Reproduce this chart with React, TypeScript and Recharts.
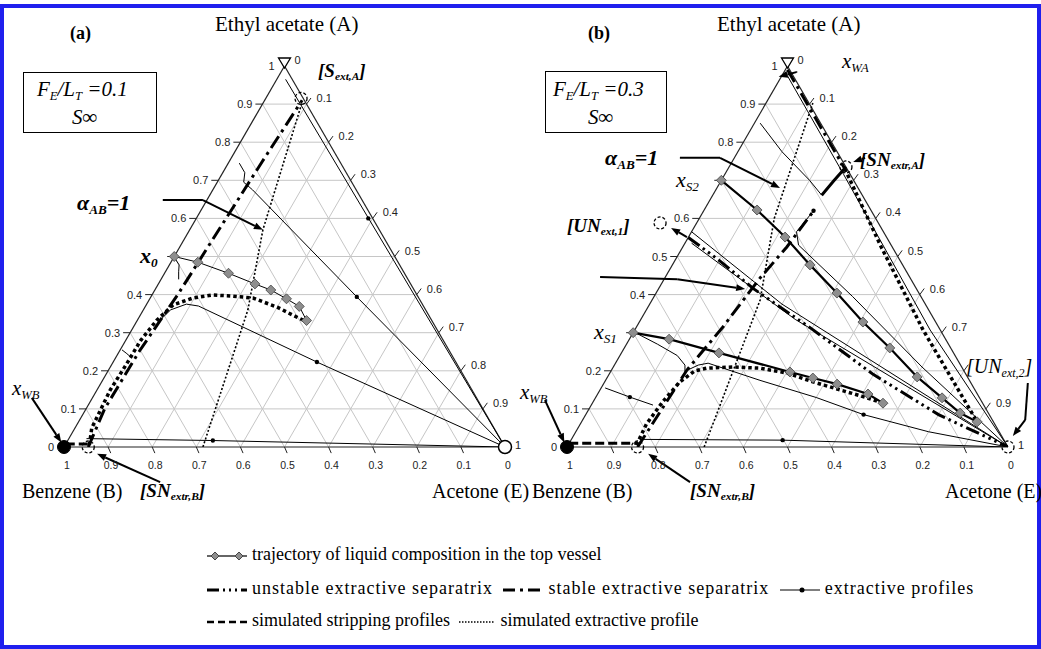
import React from "react";
import { ComposedChart, XAxis, YAxis, Line, ReferenceLine, ReferenceDot } from "recharts";

// compositions are [acetone xE, ethyl acetate xA]; benzene = 1 - xE - xA
type Comp = [number, number];
type Pt = [number, number]; // chart units (x, y) for annotations

const steps = [0.1, 0.2, 0.3, 0.4, 0.5, 0.6, 0.7, 0.8, 0.9];
const tickValues = [0, 0.1, 0.2, 0.3, 0.4, 0.5, 0.6, 0.7, 0.8, 0.9, 1];
const tickLabels = ["0", "0.1", "0.2", "0.3", "0.4", "0.5", "0.6", "0.7", "0.8", "0.9", "1"];

// ---------- panel (a) F_E/L_T = 0.1 ----------
const trajA: Comp[] = [
  [0, 0.5], [0.061, 0.485], [0.145, 0.456], [0.219, 0.428],
  [0.263, 0.412], [0.31, 0.389], [0.349, 0.369], [0.384, 0.332],
];
const simExtrA: Comp[] = [
  [0.055, 0.005], [0.038, 0.05], [0.03, 0.15], [0.033, 0.22], [0.034, 0.28],
  [0.044, 0.333], [0.061, 0.373], [0.097, 0.391], [0.138, 0.399], [0.185, 0.396],
  [0.233, 0.391], [0.3, 0.367], [0.346, 0.346], [0.387, 0.328],
];
const stripA: Comp[] = [[0, 0.008], [0.055, 0.008]];
const stableA: Comp[] = [
  [0.055, 0], [0.042, 0.1], [0.045, 0.25], [0.058, 0.4], [0.065, 0.55], [0.075, 0.75], [0.085, 0.91],
];
const alphaA: Comp[] = [[0.315, 0], [0.237, 0.36], [0.166, 0.57], [0.088, 0.903]];
const profilesA: Comp[][] = [
  [[0.02, 0.965], [1, 0]],
  [[0.025, 0.745], [0.05, 0.72], [0.06, 0.695], [0.09, 0.675], [0.467, 0.394], [1, 0]],
  [[0.05, 0.33], [0.062, 0.36], [0.09, 0.375], [0.12, 0.37], [0.462, 0.223], [1, 0]],
  [[0.04, 0.022], [0.329, 0.017], [1, 0]],
  [[0.004, 0.495], [0.022, 0.478], [0.03, 0.46], [0.04, 0.44]],
  [[0.004, 0.255], [0.02, 0.245], [0.035, 0.235]],
];
const arrowDotsA: Comp[] = [[0.39, 0.6], [0.467, 0.394], [0.462, 0.223], [0.329, 0.017]];
const openCirclesA: Comp[] = [[0.055, 0], [0.08, 0.915]];
const arrowsA: Pt[][] = [
  [[0.224, 0.648], [0.315, 0.648], [0.451, 0.57]],
  [[-0.073, 0.129], [-0.006, 0.012]],
  [[0.218, -0.092], [0.075, -0.018]],
];

// ---------- panel (b) F_E/L_T = 0.3 ----------
const trajB: Comp[][] = [
  [[0, 0.7], [0.12, 0.622], [0.219, 0.551], [0.312, 0.478], [0.41, 0.404], [0.507, 0.328],
   [0.602, 0.26], [0.702, 0.184], [0.786, 0.129], [0.847, 0.089], [0.897, 0.066]],
  [[0, 0.3], [0.09, 0.283], [0.221, 0.247], [0.407, 0.197], [0.467, 0.181], [0.53, 0.165],
   [0.613, 0.139], [0.659, 0.115]],
];
const simExtrB: Comp[][] = [
  [[0.155, 0.005], [0.15, 0.06], [0.158, 0.12], [0.17, 0.17], [0.19, 0.2], [0.214, 0.207],
   [0.271, 0.21], [0.334, 0.207], [0.402, 0.194], [0.472, 0.171], [0.544, 0.15], [0.616, 0.129], [0.659, 0.115]],
  [[0.265, 0.73], [0.45, 0.525], [0.654, 0.307], [0.897, 0.066]],
];
const stripB: Comp[] = [[0, 0.01], [0.155, 0.01]];
const stableB: Comp[][] = [
  [[0.16, 0], [0.171, 0.202], [0.196, 0.315], [0.216, 0.444], [0.236, 0.525], [0.249, 0.617]],
  [[0.005, 0.99], [0.265, 0.73]],
];
const unstableB: Comp[] = [[0, 0.55], [0.1, 0.49], [0.216, 0.415], [0.4, 0.31], [0.6, 0.19], [0.8, 0.085], [1, 0]];
const heavyB: Comp[] = [[0.265, 0.735], [0.256, 0.7], [0.247, 0.661]];
const alphaB: Comp[] = [[0.311, 0], [0.245, 0.386], [0.17, 0.6], [0.106, 0.903]];
const profilesB: Comp[][] = [
  [[0.013, 0.85], [0.1, 0.775], [0.2, 0.7], [0.247, 0.661]],
  [[0.012, 0.975], [0.27, 0.715], [0.67, 0.307], [1, 0]],
  [[0.249, 0.62], [0.238, 0.565], [0.26, 0.53], [0.45, 0.395], [0.7, 0.21], [1, 0]],
  [[0.009, 0.155], [0.077, 0.131], [0.14, 0.11]],
  [[0.005, 0.3], [0.07, 0.27], [0.13, 0.24], [0.16, 0.215], [0.17, 0.195]],
  [[0.17, 0.2], [0.19, 0.215], [0.21, 0.22], [0.35, 0.175], [0.5, 0.13], [0.63, 0.085], [0.8, 0.04], [1, 0]],
  [[0.155, 0.02], [0.48, 0.018], [1, 0]],
  [[0, 0.565], [0.3, 0.375], [1, 0]],
  [[0.015, 0.535], [0.35, 0.335], [1, 0]],
];
const arrowDotsB: Comp[] = [[0.077, 0.131], [0.63, 0.085], [0.48, 0.018], [0.249, 0.62]];
const openCirclesB: Comp[] = [[0.16, 0], [0.265, 0.735], [-0.083, 0.588], [1, 0]];
const arrowsB: Pt[][] = [
  [[0.522, 0.984], [0.52, 0.984], [0.48, 0.972]],
  [[0.256, 0.759], [0.347, 0.759], [0.483, 0.68]],
  [[0.272, 0.551], [0.236, 0.575]],
  [[0.075, 0.446], [0.25, 0.44], [0.404, 0.415]],
  [[0.279, -0.092], [0.184, -0.018]],
  [[0.676, 0.759], [0.649, 0.748]],
  [[1.045, 0.168], [1.039, 0.071], [1.011, 0.029]],
  [[-0.05, 0.123], [-0.006, 0.012]],
];

const serif = '"Liberation Serif", "Times New Roman", serif';
const sans = '"Liberation Sans", Arial, sans-serif';
const CW = 560;
const CH = 500;
const margin = { top: 66, right: 55, bottom: 53, left: 64 };

const xy = (c: Comp[]) => c.map(([e, a]) => ({ x: e + a / 2, y: a }));
const cx = ([e, a]: Comp) => e + a / 2;

const diamond = (p: any) => {
  const { cx: x, cy: y, index } = p;
  if (x == null || y == null) return <g key={index} />;
  const s = 5;
  return (
    <path key={index} d={`M${x},${y - s}L${x + s},${y}L${x},${y + s}L${x - s},${y}Z`}
      fill="#8e8e8e" stroke="#444" strokeWidth={0.8} />
  );
};

const arrowShape = (head: boolean) => (p: any) => {
  const { x1, y1, x2, y2 } = p;
  const dx = x2 - x1, dy = y2 - y1;
  const len = Math.sqrt(dx * dx + dy * dy) || 1;
  const ux = dx / len, uy = dy / len;
  const hl = 9, hw = 3.5;
  const bx = x2 - ux * hl, by = y2 - uy * hl;
  return (
    <g>
      <line x1={x1} y1={y1} x2={head ? bx : x2} y2={head ? by : y2} stroke="#000" strokeWidth={2} />
      {head && (
        <path d={`M${x2},${y2}L${bx - uy * hw},${by + ux * hw}L${bx + uy * hw},${by - ux * hw}Z`} fill="#000" />
      )}
    </g>
  );
};

type PanelData = {
  traj: Comp[][];
  trajWidth: number;
  simExtr: Comp[][];
  strip: Comp[];
  stable: Comp[][];
  unstable: Comp[][];
  heavy: Comp[][];
  alpha: Comp[];
  profiles: Comp[][];
  arrowDots: Comp[];
  openCircles: Comp[];
  dashedE: boolean;
  arrows: Pt[][];
  hideLeft: number[];
  hideRight: number[];
};

function Panel({ left, d }: { left: number; d: PanelData }) {
  const grid: { x1: number; y1: number; x2: number; y2: number }[] = [];
  steps.forEach((k) => {
    grid.push({ x1: k / 2, y1: k, x2: 1 - k / 2, y2: k });
    grid.push({ x1: k, y1: 0, x2: k + (1 - k) / 2, y2: 1 - k });
    grid.push({ x1: 1 - k, y1: 0, x2: (1 - k) / 2, y2: 1 - k });
  });
  return (
    <div style={{ position: "absolute", left, top: 0 }}>
      <ComposedChart width={CW} height={CH} margin={margin}>
        <XAxis type="number" dataKey="x" domain={[0, 1]} hide allowDataOverflow />
        <YAxis type="number" dataKey="y" domain={[0, 1]} hide allowDataOverflow />
        {grid.map((g, i) => (
          <ReferenceLine key={`g${i}`} segment={[{ x: g.x1, y: g.y1 }, { x: g.x2, y: g.y2 }]}
            stroke="#c6c6c6" strokeWidth={1} ifOverflow="visible" />
        ))}
        <ReferenceLine segment={[{ x: 0, y: 0 }, { x: 1, y: 0 }]} stroke="#222" strokeWidth={1.2} ifOverflow="visible" />
        <ReferenceLine segment={[{ x: 0, y: 0 }, { x: 0.5, y: 1 }]} stroke="#222" strokeWidth={1.2} ifOverflow="visible" />
        <ReferenceLine segment={[{ x: 1, y: 0 }, { x: 0.5, y: 1 }]} stroke="#222" strokeWidth={1.2} ifOverflow="visible" />
        {tickValues.slice(1, 10).map((v) => (
          <ReferenceLine key={`tl${v}`} segment={[{ x: v / 2, y: v }, { x: v / 2 - 0.016, y: v }]}
            stroke="#222" ifOverflow="visible" />
        ))}
        {tickValues.slice(1, 10).map((v) => (
          <ReferenceLine key={`tr${v}`} segment={[{ x: v + (1 - v) / 2, y: 1 - v }, { x: v + (1 - v) / 2 + 0.01, y: 1 - v + 0.016 }]}
            stroke="#222" ifOverflow="visible" />
        ))}
        {tickValues.slice(1, 10).map((v) => (
          <ReferenceLine key={`tb${v}`} segment={[{ x: v, y: 0 }, { x: v + 0.006, y: -0.016 }]}
            stroke="#222" ifOverflow="visible" />
        ))}
        {tickValues.map((v, i) =>
          d.hideLeft.includes(i) ? null : (
            <ReferenceDot key={`ll${i}`} x={v / 2} y={v} r={0} ifOverflow="visible"
              shape={(p: any) => (
                <text x={p.cx - 10} y={p.cy + 4} textAnchor="end" fontSize={11} fontFamily={sans} fill="#222">{tickLabels[i]}</text>
              )} />
          )
        )}
        {tickValues.map((v, i) =>
          d.hideRight.includes(i) ? null : (
            <ReferenceDot key={`rl${i}`} x={v + (1 - v) / 2} y={1 - v} r={0} ifOverflow="visible"
              shape={(p: any) => (
                <text x={p.cx + 10} y={p.cy + (i === 10 ? 2 : -2)} textAnchor="start" fontSize={11} fontFamily={sans} fill="#222">{tickLabels[i]}</text>
              )} />
          )
        )}
        {tickValues.map((v, i) => (
          <ReferenceDot key={`bl${i}`} x={1 - v} y={0} r={0} ifOverflow="visible"
            shape={(p: any) => (
              <text x={p.cx + 3} y={p.cy + 22} textAnchor="middle" fontSize={10.5} fontFamily={sans} fill="#222">{tickLabels[i]}</text>
            )} />
        ))}
        <Line data={xy(d.alpha)} dataKey="y" stroke="#000" strokeWidth={1.6} strokeDasharray="2 2"
          dot={false} isAnimationActive={false} />
        {d.profiles.map((p, i) => (
          <Line key={`p${i}`} data={xy(p)} dataKey="y" stroke="#000" strokeWidth={1}
            dot={false} isAnimationActive={false} />
        ))}
        {d.simExtr.map((p, i) => (
          <Line key={`s${i}`} data={xy(p)} dataKey="y" stroke="#000" strokeWidth={3.5} strokeDasharray="3.5 3"
            dot={false} isAnimationActive={false} />
        ))}
        {d.stable.map((p, i) => (
          <Line key={`st${i}`} data={xy(p)} dataKey="y" stroke="#000" strokeWidth={3} strokeDasharray="14 5 3 5"
            dot={false} isAnimationActive={false} />
        ))}
        {d.unstable.map((p, i) => (
          <Line key={`un${i}`} data={xy(p)} dataKey="y" stroke="#000" strokeWidth={3} strokeDasharray="14 4 2.5 4 2.5 4 2.5 4"
            dot={false} isAnimationActive={false} />
        ))}
        {d.heavy.map((p, i) => (
          <Line key={`h${i}`} data={xy(p)} dataKey="y" stroke="#000" strokeWidth={3}
            dot={false} isAnimationActive={false} />
        ))}
        <Line data={xy(d.strip)} dataKey="y" stroke="#000" strokeWidth={3} strokeDasharray="9 4"
          dot={false} isAnimationActive={false} />
        {d.traj.map((p, i) => (
          <Line key={`t${i}`} data={xy(p)} dataKey="y" stroke="#000" strokeWidth={d.trajWidth}
            dot={diamond} isAnimationActive={false} />
        ))}
        {d.arrowDots.map((c, i) => (
          <ReferenceDot key={`ad${i}`} x={cx(c)} y={c[1]} r={2.2} fill="#000" stroke="none" ifOverflow="visible" />
        ))}
        {d.openCircles.map((c, i) => (
          <ReferenceDot key={`oc${i}`} x={cx(c)} y={c[1]} r={6} fill="none" stroke="#000" strokeWidth={1.3}
            strokeDasharray="3 2" ifOverflow="visible" />
        ))}
        {!d.dashedE && (
          <ReferenceDot x={1} y={0} r={6.5} fill="#fff" stroke="#000" strokeWidth={1.5} ifOverflow="visible" />
        )}
        <ReferenceDot x={0} y={0} r={6.5} fill="#000" stroke="#000" ifOverflow="visible" />
        <ReferenceDot x={0.5} y={1} r={0} ifOverflow="visible"
          shape={(p: any) => (
            <path d={`M${p.cx - 6},${p.cy - 8}L${p.cx + 6},${p.cy - 8}L${p.cx},${p.cy + 2}Z`} fill="#fff" stroke="#000" strokeWidth={1.3} />
          )} />
        {d.arrows.map((a, i) =>
          a.slice(1).map((pt, j) => (
            <ReferenceLine key={`ar${i}-${j}`} segment={[{ x: a[j][0], y: a[j][1] }, { x: pt[0], y: pt[1] }]}
              ifOverflow="visible" shape={arrowShape(j === a.length - 2)} />
          ))
        )}
      </ComposedChart>
    </div>
  );
}

const Sub = ({ children }: { children: React.ReactNode }) => (
  <sub style={{ fontSize: "0.6em", verticalAlign: "-0.3em" }}>{children}</sub>
);

const T = ({ x, y, size = 20, style, children }: { x: number; y: number; size?: number; style?: React.CSSProperties; children: React.ReactNode }) => (
  <div style={{ position: "absolute", left: x, top: y - size * 0.6, fontFamily: serif, fontSize: size, lineHeight: 1.2, whiteSpace: "nowrap", ...style }}>
    {children}
  </div>
);

const bi: React.CSSProperties = { fontStyle: "italic", fontWeight: "bold" };
const it: React.CSSProperties = { fontStyle: "italic" };

const LegendSample = ({ w, children }: { w: number; children: React.ReactNode }) => (
  <svg width={w} height={14} style={{ verticalAlign: "middle", margin: "0 3px" }}>{children}</svg>
);

const legendRow: React.CSSProperties = { position: "absolute", left: 202, fontFamily: serif, fontSize: 18, whiteSpace: "nowrap" };

export default function App() {
  const dataA: PanelData = {
    traj: [trajA], trajWidth: 1, simExtr: [simExtrA], strip: stripA, stable: [stableA], unstable: [],
    heavy: [], alpha: alphaA, profiles: profilesA, arrowDots: arrowDotsA, openCircles: openCirclesA,
    dashedE: false, arrows: arrowsA, hideLeft: [5], hideRight: [],
  };
  const dataB: PanelData = {
    traj: trajB, trajWidth: 2.2, simExtr: simExtrB, strip: stripB, stable: stableB, unstable: [unstableB],
    heavy: [heavyB], alpha: alphaB, profiles: profilesB, arrowDots: arrowDotsB, openCircles: openCirclesB,
    dashedE: true, arrows: arrowsB, hideLeft: [3, 7], hideRight: [8],
  };
  return (
    <div style={{ position: "absolute", left: 0, top: 0, width: 1041, height: 649, overflow: "hidden", background: "#fff", fontFamily: serif }}>
      <div style={{ position: "absolute", left: 0, top: 4, width: 1041 - 8, height: 649 - 12, border: "4px solid #1f1fee" }} />
      <Panel left={0} d={dataA} />
      <Panel left={503} d={dataB} />

      <T x={215} y={25} size={21}>Ethyl acetate (A)</T>
      <T x={717} y={25} size={21}>Ethyl acetate (A)</T>
      <T x={70} y={34} size={18} style={{ fontWeight: "bold" }}>(a)</T>
      <T x={588} y={34} size={18} style={{ fontWeight: "bold" }}>(b)</T>

      <div style={{ position: "absolute", left: 23, top: 72, width: 132, height: 59, border: "1.5px solid #000" }} />
      <T x={37} y={90} size={21} style={it}>F<Sub>E</Sub>/L<Sub>T</Sub> =0.1</T>
      <T x={72} y={118} size={21} style={it}>S∞</T>
      <div style={{ position: "absolute", left: 545, top: 71, width: 120, height: 60, border: "1.5px solid #000" }} />
      <T x={553} y={90} size={21} style={it}>F<Sub>E</Sub>/L<Sub>T</Sub> =0.3</T>
      <T x={588} y={118} size={21} style={it}>S∞</T>

      <T x={77} y={203} size={22} style={bi}>α<Sub>AB</Sub>=1</T>
      <T x={140} y={256} size={22} style={bi}>x<Sub>0</Sub></T>
      <T x={12} y={389} size={21} style={it}>x<Sub>WB</Sub></T>
      <T x={318} y={71} size={19} style={bi}>[S<Sub>ext,A</Sub>]</T>
      <T x={22} y={491}>Benzene (B)</T>
      <T x={140} y={491} size={19} style={bi}>[SN<Sub>extr,B</Sub>]</T>
      <T x={432} y={491}>Acetone (E)</T>

      <T x={605} y={158} size={22} style={bi}>α<Sub>AB</Sub>=1</T>
      <T x={842} y={62} size={21} style={it}>x<Sub>WA</Sub></T>
      <T x={860} y={160} size={19} style={bi}>[SN<Sub>extr,A</Sub>]</T>
      <T x={676} y={180} size={22} style={it}>x<Sub>S2</Sub></T>
      <T x={567} y={226} size={19} style={bi}>[UN<Sub>ext,1</Sub>]</T>
      <T x={594} y={332} size={22} style={it}>x<Sub>S1</Sub></T>
      <T x={520} y={393} size={21} style={it}>x<Sub>WB</Sub></T>
      <T x={966} y={366} size={20} style={it}>[UN<Sub>ext,2</Sub>]</T>
      <T x={532} y={491}>Benzene (B)</T>
      <T x={690} y={491} size={19} style={bi}>[SN<Sub>extr,B</Sub>]</T>
      <T x={945} y={491}>Acetone (E)</T>

      <div style={{ ...legendRow, top: 544 }}>
        <LegendSample w={44}>
          <line x1={2} y1={7} x2={42} y2={7} stroke="#333" strokeWidth={1.5} />
          <path d="M10,3L14,7L10,11L6,7Z" fill="#8e8e8e" stroke="#444" />
          <path d="M34,3L38,7L34,11L30,7Z" fill="#8e8e8e" stroke="#444" />
        </LegendSample>trajectory of liquid composition in the top vessel
      </div>
      <div style={{ ...legendRow, top: 578, letterSpacing: 1 }}>
        <LegendSample w={44}>
          <line x1={2} y1={7} x2={42} y2={7} stroke="#000" strokeWidth={3} strokeDasharray="12 4 2 4 2 4 2 4" />
        </LegendSample>unstable extractive separatrix{" "}
        <LegendSample w={44}>
          <line x1={2} y1={7} x2={42} y2={7} stroke="#000" strokeWidth={3} strokeDasharray="12 5 3 5" />
        </LegendSample>stable extractive separatrix{" "}
        <LegendSample w={44}>
          <line x1={2} y1={7} x2={42} y2={7} stroke="#000" strokeWidth={1.2} />
          <circle cx={24} cy={7} r={2.5} fill="#000" />
        </LegendSample>extractive profiles
      </div>
      <div style={{ ...legendRow, top: 610 }}>
        <LegendSample w={44}>
          <line x1={2} y1={7} x2={42} y2={7} stroke="#000" strokeWidth={2.5} strokeDasharray="7 4" />
        </LegendSample>simulated stripping profiles{" "}
        <LegendSample w={40}>
          <line x1={2} y1={7} x2={38} y2={7} stroke="#000" strokeWidth={1.5} strokeDasharray="1.5 1.5" />
        </LegendSample>simulated extractive profile
      </div>
    </div>
  );
}
